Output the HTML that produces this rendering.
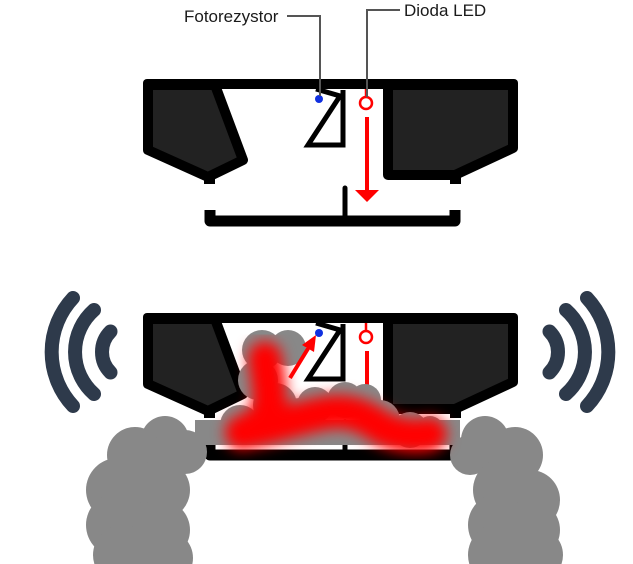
<!DOCTYPE html>
<html><head><meta charset="utf-8"><style>
html,body{margin:0;padding:0;background:#fff;}
svg{display:block;}
text{font-family:"Liberation Sans",sans-serif;}
</style></head><body>
<svg width="633" height="564" viewBox="0 0 633 564" xmlns="http://www.w3.org/2000/svg">
<defs>
<filter id="bl" x="-30%" y="-30%" width="160%" height="160%"><feGaussianBlur stdDeviation="7"/></filter>
<g id="unit">
  <rect x="143" y="79" width="375" height="10" rx="4" fill="#000"/>
  <polygon points="148,85 215,85 243,160 208,177 148,150" fill="#222" stroke="#000" stroke-width="10" stroke-linejoin="round"/>
  <polygon points="388,85 513,85 513,148 455,175 388,175" fill="#222" stroke="#000" stroke-width="10" stroke-linejoin="round"/>
  <rect x="204" y="172" width="11" height="12" fill="#000"/>
  <rect x="450" y="172" width="11" height="12" fill="#000"/>
  <path d="M210 210 V221 H455 V210" fill="none" stroke="#000" stroke-width="11" stroke-linejoin="round"/>
  <line x1="345" y1="188" x2="345" y2="220" stroke="#000" stroke-width="5" stroke-linecap="round"/>
  <path d="M343 90 V145 H308 L340 96 L316 89" fill="none" stroke="#000" stroke-width="5" stroke-linejoin="miter"/>
  <circle cx="319" cy="99" r="4" fill="#1030e0"/>
  <line x1="366" y1="89" x2="366" y2="97" stroke="#f00" stroke-width="2.5"/>
  <circle cx="366" cy="103" r="6" fill="#fff" stroke="#f00" stroke-width="2.5"/>
</g>
</defs>

<use href="#unit"/>
<line x1="367" y1="117" x2="367" y2="192" stroke="#f00" stroke-width="4"/>
<polygon points="355,190 379,190 367,202" fill="#f00"/>
<path d="M287 16 H320 V96" fill="none" stroke="#555" stroke-width="2"/>
<path d="M367 97 V10 H400" fill="none" stroke="#555" stroke-width="2"/>
<text x="184" y="22" font-size="17" fill="#1a1a1a">Fotorezystor</text>
<text x="404" y="16" font-size="17" fill="#1a1a1a">Dioda LED</text>

<g transform="translate(0,234)">
  <use href="#unit"/>
  <line x1="367" y1="117" x2="367" y2="155" stroke="#f00" stroke-width="4"/>
</g>

<g fill="#888">
  <circle cx="165" cy="440" r="24"/><circle cx="135" cy="455" r="28"/><circle cx="185" cy="452" r="22"/>
  <circle cx="118" cy="490" r="32"/><circle cx="160" cy="490" r="30"/>
  <circle cx="118" cy="525" r="32"/><circle cx="160" cy="530" r="30"/>
  <circle cx="123" cy="555" r="30"/><circle cx="165" cy="558" r="28"/>
  <circle cx="485" cy="440" r="24"/><circle cx="515" cy="455" r="28"/><circle cx="470" cy="455" r="20"/>
  <circle cx="505" cy="490" r="32"/><circle cx="530" cy="500" r="30"/>
  <circle cx="500" cy="525" r="32"/><circle cx="530" cy="530" r="30"/>
  <circle cx="500" cy="555" r="32"/><circle cx="535" cy="555" r="28"/>
  <rect x="195" y="420" width="265" height="25"/>
  <circle cx="262" cy="350" r="20"/><circle cx="288" cy="348" r="18"/><circle cx="258" cy="380" r="20"/>
  <circle cx="275" cy="405" r="22"/><circle cx="240" cy="425" r="20"/><circle cx="300" cy="420" r="22"/>
  <circle cx="315" cy="405" r="18"/><circle cx="345" cy="400" r="18"/><circle cx="365" cy="400" r="16"/>
  <circle cx="380" cy="420" r="20"/><circle cx="410" cy="430" r="18"/><circle cx="430" cy="430" r="14"/>
</g>
<path d="M265 358 C268 380 272 400 268 415 M242 432 C265 430 290 420 320 414 C345 408 362 414 382 428 C400 437 420 437 430 434 M268 415 C258 425 248 430 242 433" fill="none" stroke="#f00" stroke-width="34" stroke-linecap="round" filter="url(#bl)"/>
<line x1="290" y1="378" x2="309" y2="347" stroke="#f00" stroke-width="4"/>
<polygon points="316,335 302,345 314,352" fill="#f00"/>

<g fill="none" stroke="#2e3a4b" stroke-width="14" stroke-linecap="round">
  <g transform="translate(529,352)">
    <path d="M20.5 -20.5 A29 29 0 0 1 20.5 20.5"/>
    <path d="M37 -42 A56 56 0 0 1 37 42"/>
    <path d="M58 -54 A79 79 0 0 1 58 54"/>
  </g>
  <g transform="translate(131,352) scale(-1,1)">
    <path d="M20.5 -20.5 A29 29 0 0 1 20.5 20.5"/>
    <path d="M37 -42 A56 56 0 0 1 37 42"/>
    <path d="M58 -54 A79 79 0 0 1 58 54"/>
  </g>
</g>
</svg>
</body></html>
